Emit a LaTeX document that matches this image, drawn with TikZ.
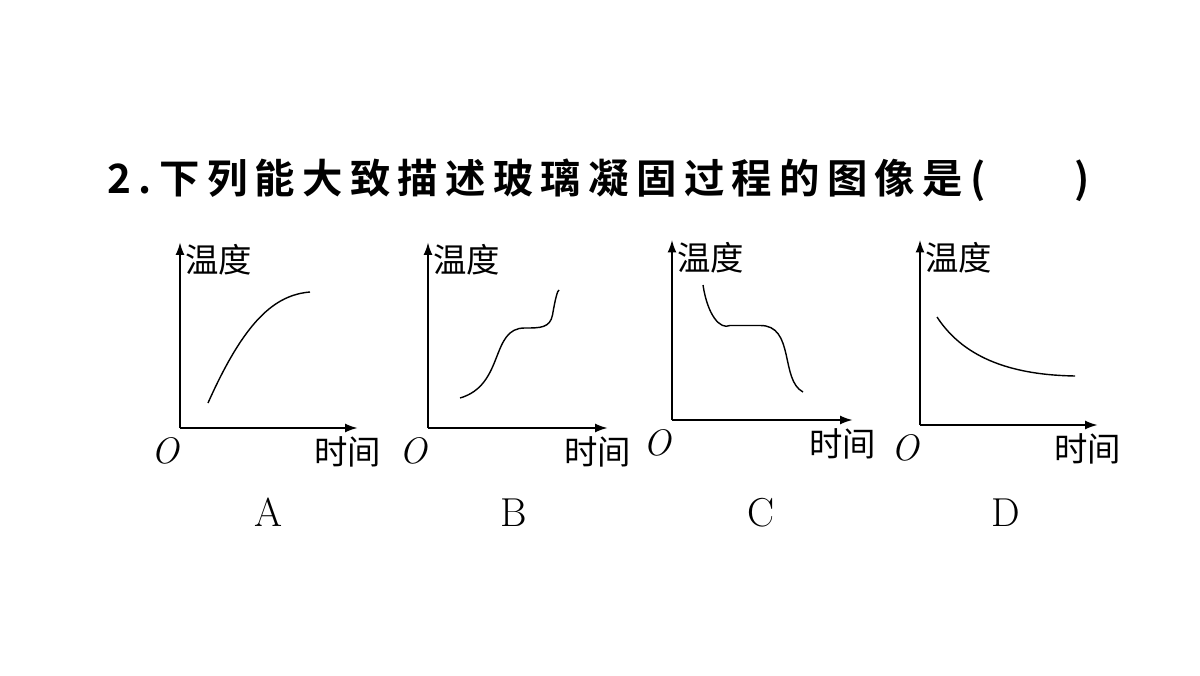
\documentclass[tikz,border=0pt]{standalone}
\usepackage{fontspec}
\newfontfamily\cjk{Noto Sans CJK SC}
\newfontfamily\cjkt{Noto Sans CJK SC Bold}[LetterSpace=18]
\usetikzlibrary{arrows.meta,calc}
\tikzset{
  axis/.style={thick, -{Latex[length=7pt,width=5pt]}},
  curve/.style={thick},
  lbl/.style={font=\cjk\fontsize{19}{19}\selectfont, inner sep=0pt},
  letter/.style={font=\fontsize{23}{23}\selectfont, inner sep=0pt}
}
\newcommand{\graphaxes}[7]{%
  % #1 name, #2 x of y-axis, #3 y of x-axis, #4 top, #5 right, #6 letter x, #7 letter
  \coordinate (#1o) at (#2,#3);
  \coordinate (#1t) at (#2,#4);
  \coordinate (#1r) at (#5,#3);
  \draw[axis] (#1o) -- (#1t);
  \draw[axis] (#1o) -- (#1r);
  \node[letter, font=\itshape\fontsize{21}{21}\selectfont] (#1O) at ($(#1o)+(-0.3,-0.45)$) {O};
  \node[lbl, anchor=west] (#1temp) at ($(#1t)+(0.1,-0.35)$) {温度};
  \node[lbl] (#1time) at ($(#1r)+(-0.2,-0.48)$) {时间};
  \node[letter] (#1name) at (#6,3.25) {#7};
}
\begin{document}
\begin{tikzpicture}
\useasboundingbox (0,0) rectangle (24,13.5);
\node[anchor=west, inner sep=0pt] (title) at (2.15,9.9)
  {\cjkt\fontsize{23}{23}\selectfont 2.下列能大致描述玻璃凝固过程的图像是(\hspace{2.2em})};
% A
\graphaxes{a}{3.6}{4.94}{8.65}{7.15}{5.36}{A}
\draw[curve] (4.16,5.44) .. controls (4.9,7.1) and (5.5,7.6) .. (6.2,7.66);
% B
\graphaxes{b}{8.56}{4.94}{8.65}{12.15}{10.28}{B}
\draw[curve] (9.2,5.54) .. controls (10.1,5.8) and (9.8,6.95) .. (10.5,6.94)
  .. controls (10.8,6.94) and (11.0,6.94) .. (11.05,7.2) .. controls (11.1,7.5) and (11.15,7.7) .. (11.18,7.7);
% C
\graphaxes{c}{13.44}{5.1}{8.7}{17.05}{15.22}{C}
\draw[curve] (14.06,7.8) .. controls (14.15,7.2) and (14.4,6.9) .. (14.6,6.99)
  -- (15.2,6.99) .. controls (15.9,7.0) and (15.6,5.9) .. (16.06,5.66);
% D
\graphaxes{d}{18.4}{5.0}{8.7}{21.95}{20.12}{D}
\draw[curve] (18.74,7.16) .. controls (19.3,6.3) and (20.3,6.0) .. (21.5,5.98);
\end{tikzpicture}
\end{document}
